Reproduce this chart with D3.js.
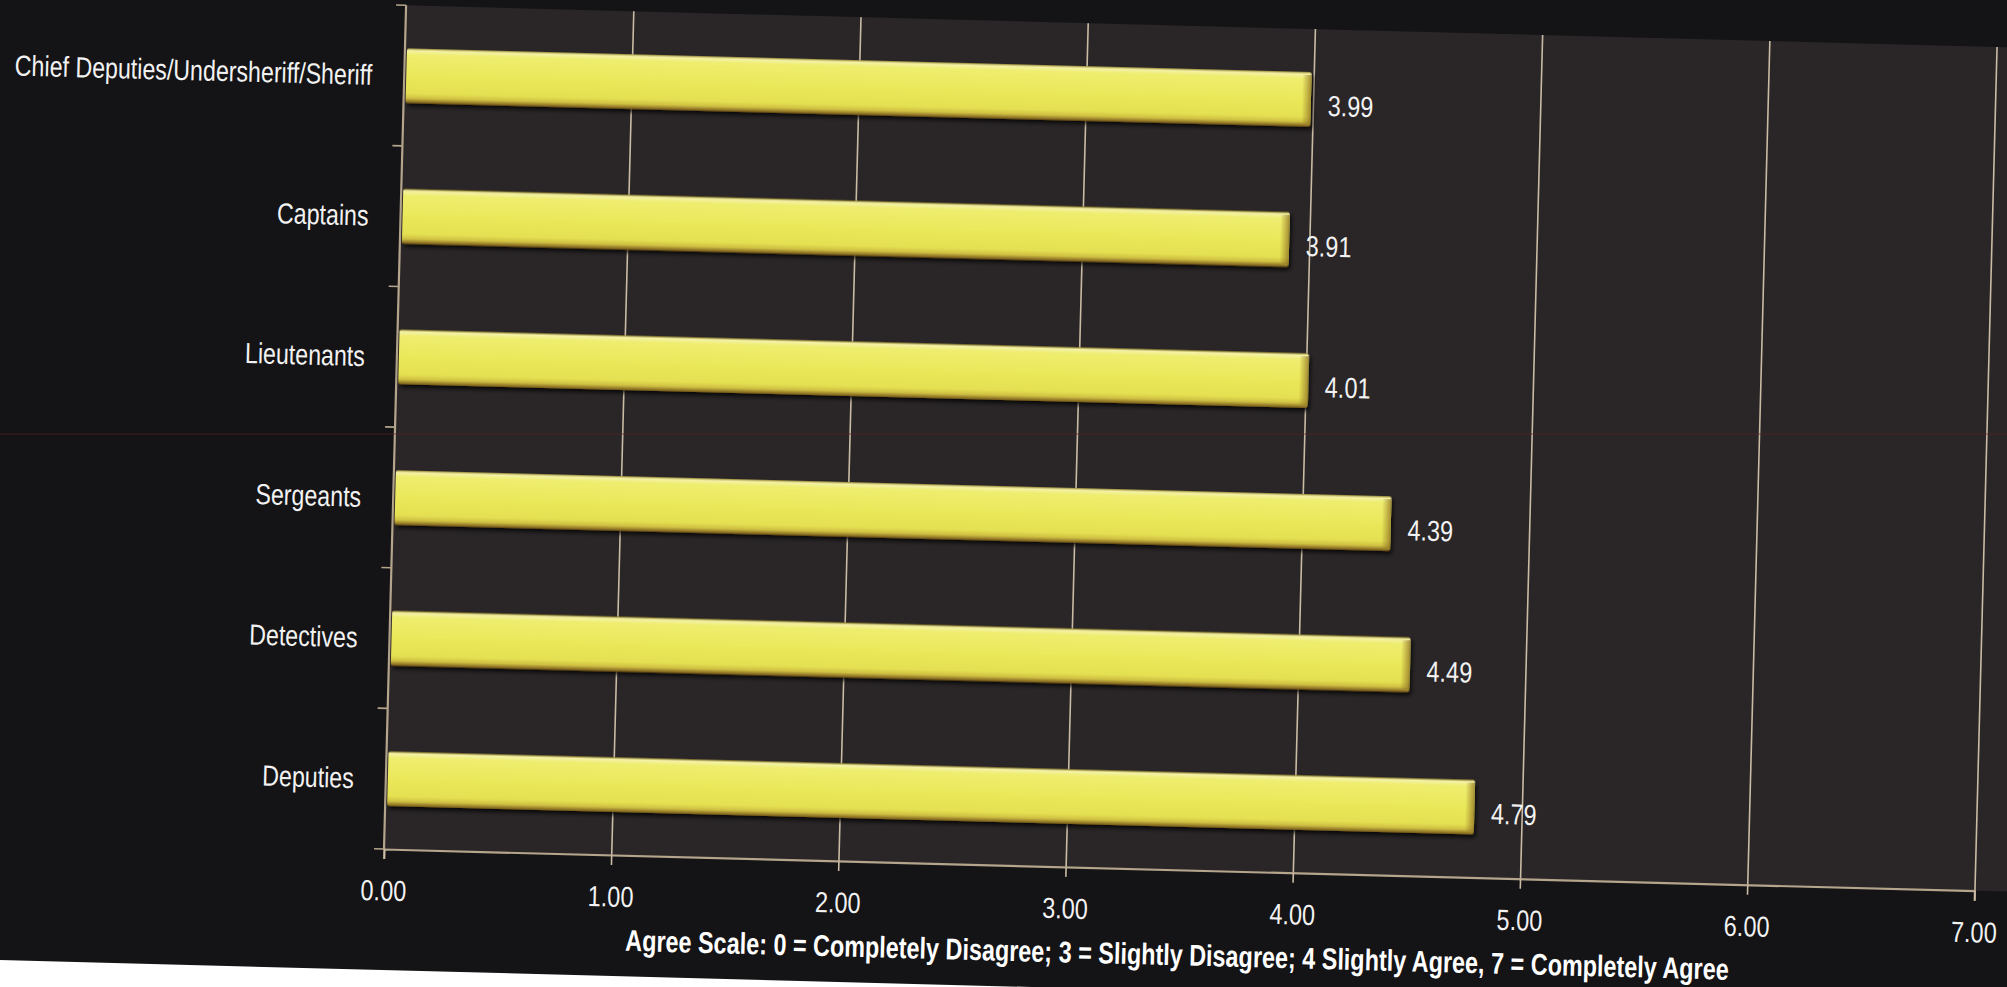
<!DOCTYPE html>
<html>
<head>
<meta charset="utf-8">
<script src="https://cdn.jsdelivr.net/npm/d3@7"></script>
<style>
  html, body { margin: 0; padding: 0; background: #ffffff; overflow: hidden; }
  svg { display: block; }
  text { font-family: "Liberation Sans", Arial, sans-serif; }
</style>
</head>
<body>
<svg id="chart" width="2007" height="987"></svg>
<script>
// ---- data ----
const categories = [
  "Chief Deputies/Undersheriff/Sheriff",
  "Captains",
  "Lieutenants",
  "Sergeants",
  "Detectives",
  "Deputies"
];
const values = [3.99, 3.91, 4.01, 4.39, 4.49, 4.79];
const xTicks = [0, 1, 2, 3, 4, 5, 6, 7];
const xTickLabels = ["0.00", "1.00", "2.00", "3.00", "4.00", "5.00", "6.00", "7.00"];
const axisTitle = "Agree Scale: 0 = Completely Disagree; 3 = Slightly Disagree; 4 Slightly Agree, 7 = Completely Agree";

(function () {
// ---- layout ----
const W = 2007, H = 987;
const pL = 384, pR = 1975, pT = 5, pB = 849;
const tilt = 1.5; // scanned page is slightly rotated

// condense text horizontally (Arial Narrow look) around its anchor point
function narrow(sel, k) {
  sel.each(function () {
    const t = d3.select(this);
    const tx = +t.attr("x") || 0, ty = +t.attr("y") || 0;
    t.attr("x", 0).attr("y", 0)
     .attr("transform", `translate(${tx},${ty}) scale(${k},1)`);
  });
}

const svg = d3.select("#chart");
const defs = svg.append("defs");

const gV = defs.append("linearGradient").attr("id", "barV")
  .attr("x1", 0).attr("y1", 0).attr("x2", 0).attr("y2", 1);
[["0%", "#8f7f2a"], ["4%", "#f4f2a8"], ["12%", "#efed6e"], ["50%", "#eae85a"],
 ["82%", "#e4e052"], ["91%", "#cfbf42"], ["100%", "#74561a"]]
  .forEach(([o, c]) => gV.append("stop").attr("offset", o).attr("stop-color", c));

const gH = defs.append("linearGradient").attr("id", "barEnd")
  .attr("x1", 0).attr("y1", 0).attr("x2", 1).attr("y2", 0);
gH.append("stop").attr("offset", "0%").attr("stop-color", "#8a6a20").attr("stop-opacity", 0);
gH.append("stop").attr("offset", "100%").attr("stop-color", "#8a6a20").attr("stop-opacity", 0.7);

const sh = defs.append("filter").attr("id", "shadow")
  .attr("x", "-5%").attr("y", "-30%").attr("width", "110%").attr("height", "170%");
sh.append("feDropShadow").attr("dx", 2).attr("dy", 3).attr("stdDeviation", 2)
  .attr("flood-color", "#000").attr("flood-opacity", 0.8);

const g = svg.append("g").attr("transform", `rotate(${tilt},${pL},${pB})`);

// page background (dark) and plot area
g.append("rect").attr("x", -200).attr("y", -200).attr("width", 2500).attr("height", 970 + 200)
  .attr("fill", "#141315");
g.append("rect").attr("x", pL).attr("y", pT).attr("width", W - pL + 60).attr("height", pB - pT)
  .attr("fill", "#2a2627");

const x = d3.scaleLinear().domain([0, 7]).range([pL, pR]);
const y = d3.scaleBand().domain(categories).range([pT, pB])
  .paddingInner(0.61).paddingOuter(0.305);

// gridlines
g.append("g").attr("class", "grid")
  .attr("transform", `translate(0,${pB})`)
  .call(d3.axisBottom(x).tickValues(xTicks.slice(1)).tickSize(-(pB - pT)).tickFormat(""))
  .call(s => s.select(".domain").remove())
  .call(s => s.selectAll("line").attr("stroke", "#c9bba4").attr("stroke-width", 1.6));

// x axis
const xa = g.append("g").attr("transform", `translate(0,${pB})`)
  .call(d3.axisBottom(x).tickValues(xTicks).tickSize(10).tickPadding(21)
    .tickFormat((d, i) => xTickLabels[i]));
xa.select(".domain").attr("stroke", "#b4a58c").attr("stroke-width", 2.2);
xa.selectAll(".tick line").attr("stroke", "#c9bba4").attr("stroke-width", 1.6);
xa.selectAll(".tick text").attr("fill", "#f2f2f2").attr("font-size", 29)
  .attr("font-family", "'Liberation Sans',Arial,sans-serif").call(narrow, 0.81);

// y axis line and boundary ticks
g.append("line").attr("x1", pL).attr("x2", pL).attr("y1", pT).attr("y2", pB)
  .attr("stroke", "#b4a58c").attr("stroke-width", 2.2);
const bounds = d3.range(categories.length + 1).map(i => pT + i * y.step());
g.append("g").selectAll("line").data(bounds).join("line")
  .attr("x1", pL - 10).attr("x2", pL).attr("y1", d => d).attr("y2", d => d)
  .attr("stroke", "#b4a58c").attr("stroke-width", 1.6);

// category labels
g.append("g").selectAll("text").data(categories).join("text")
  .attr("x", pL - 32)
  .attr("y", d => y(d) + y.bandwidth() / 2)
  .attr("dy", "0.35em")
  .attr("text-anchor", "end")
  .attr("fill", "#f2f2f2")
  .attr("font-size", 29)
  .text(d => d)
  .call(narrow, 0.8);

// bars
const bars = g.append("g").selectAll("g").data(categories).join("g");
bars.append("rect")
  .attr("x", x(0) + 2)
  .attr("y", d => y(d))
  .attr("width", (d, i) => x(values[i]) - x(0) - 2)
  .attr("height", y.bandwidth())
  .attr("rx", 2)
  .attr("fill", "url(#barV)")
  .attr("filter", "url(#shadow)");
bars.append("rect")
  .attr("x", (d, i) => x(values[i]) - 9)
  .attr("y", d => y(d) + 3)
  .attr("width", 9)
  .attr("height", y.bandwidth() - 6)
  .attr("fill", "url(#barEnd)");

// value labels
g.append("g").selectAll("text").data(categories).join("text")
  .attr("x", (d, i) => x(values[i]) + 17)
  .attr("y", d => y(d) + y.bandwidth() / 2 + 6)
  .attr("dy", "0.35em")
  .attr("fill", "#f2f2f2")
  .attr("font-size", 29)
  .text((d, i) => d3.format(".2f")(values[i]))
  .call(narrow, 0.81);

// axis title
g.append("text")
  .attr("x", (pL + pR) / 2)
  .attr("y", pB + 85)
  .attr("dy", "0.35em")
  .attr("text-anchor", "middle")
  .attr("fill", "#ffffff")
  .attr("font-weight", "bold")
  .attr("font-size", 30)
  .text(axisTitle)
  .call(narrow, 0.78);

// faint scan line artifact
svg.append("line").attr("x1", 0).attr("x2", W).attr("y1", 434).attr("y2", 434)
  .attr("stroke", "#5a2222").attr("stroke-width", 1).attr("opacity", 0.7);
})();
</script>
</body>
</html>
